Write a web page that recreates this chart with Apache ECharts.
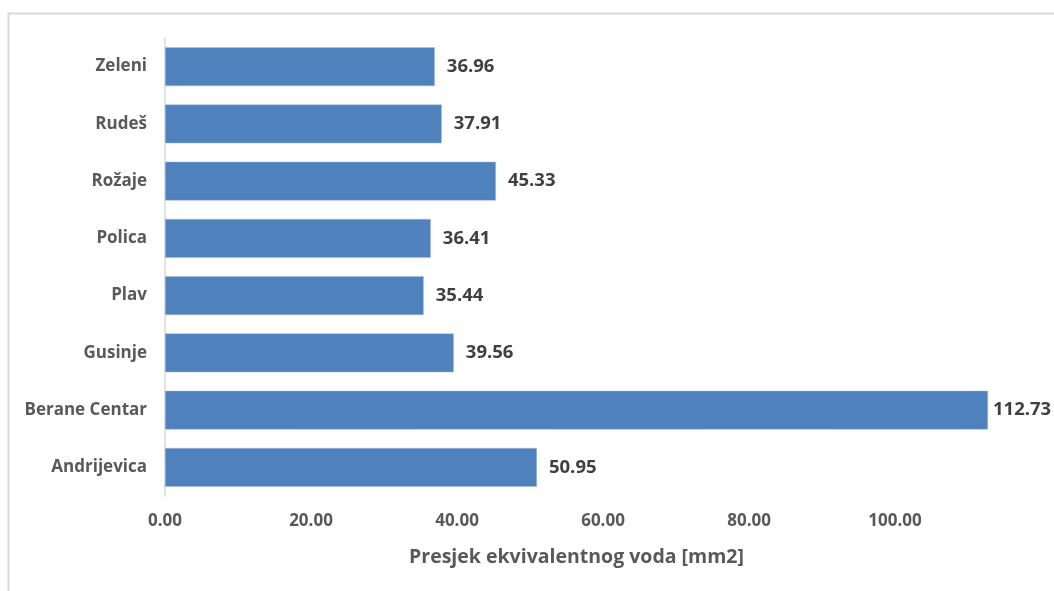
<!DOCTYPE html>
<html>
<head>
<meta charset="utf-8">
<script src="https://cdn.jsdelivr.net/npm/echarts@6/dist/echarts.min.js"></script>
<style>
html,body{margin:0;padding:0;background:#fff;}
#chart{width:1054px;height:591px;}
</style>
</head>
<body>
<div id="chart"></div>
<script>
const categories = ['Andrijevica', 'Berane Centar', 'Gusinje', 'Plav', 'Polica', 'Rožaje', 'Rudeš', 'Zeleni'];
const values = [50.95, 112.73, 39.56, 35.44, 36.41, 45.33, 37.91, 36.96];
const axisTitle = 'Presjek ekvivalentnog voda [mm2]';

const chart = echarts.init(document.getElementById('chart'), null, {renderer: 'canvas'});
const font = '"Open Sans", "Noto Sans", sans-serif';
const maxVal = Math.max(...values);
chart.setOption({
  animation: false,
  backgroundColor: '#ffffff',
  graphic: [{
    type: 'rect',
    shape: {x: 8.5, y: 13.5, width: 1100, height: 700},
    style: {fill: 'none', stroke: '#d9d9d9', lineWidth: 2},
    silent: true
  }],
  grid: {left: 165, right: 66, top: 38, bottom: 95, containLabel: false},
  xAxis: {
    type: 'value',
    min: 0,
    max: 112.73,
    interval: 20,
    name: axisTitle,
    nameLocation: 'middle',
    nameGap: 51,
    nameTextStyle: {color: '#595959', fontSize: 19.5, fontWeight: 'bold', fontFamily: font},
    axisLine: {show: false},
    axisTick: {show: false},
    splitLine: {show: false},
    axisLabel: {
      color: '#595959', fontSize: 17, fontWeight: 'bold', fontFamily: font, margin: 17,
      showMaxLabel: false,
      formatter: v => (Math.abs(v % 20) < 1e-9 ? v.toFixed(2) : '')
    }
  },
  yAxis: {
    type: 'category',
    data: categories,
    axisLine: {show: true, lineStyle: {color: '#d9d9d9', width: 1.5}},
    axisTick: {show: false},
    axisLabel: {color: '#595959', fontSize: 17, fontWeight: 'bold', fontFamily: font, margin: 18}
  },
  series: [{
    type: 'bar',
    data: values.map(v => v === maxVal ? {value: v, label: {distance: 5}} : v),
    barWidth: '68%',
    itemStyle: {color: '#4f81bd', borderColor: '#a9c2e3', borderWidth: 0.5},
    label: {
      show: true, position: 'right', distance: 12,
      color: '#404040', fontSize: 18.5, fontWeight: 'bold', fontFamily: font,
      formatter: p => p.value.toFixed(2)
    }
  }]
});
</script>
</body>
</html>
